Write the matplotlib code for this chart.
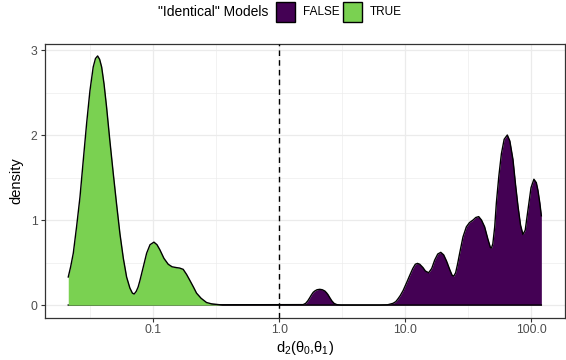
import numpy as np
import matplotlib
matplotlib.use("Agg")
import matplotlib.pyplot as plt
from matplotlib.patches import Rectangle

plt.rcParams['font.family'] = ['Liberation Sans', 'DejaVu Sans']
plt.rcParams['mathtext.fontset'] = 'custom'
plt.rcParams['mathtext.rm'] = 'Liberation Sans'
plt.rcParams['mathtext.it'] = 'Liberation Sans'
plt.rcParams['mathtext.bf'] = 'Liberation Sans:bold'

# density curves; x positions given as log10(x)
true_log10x = [-1.674, -1.655, -1.634, -1.608, -1.581, -1.555, -1.528, -1.502,
               -1.476, -1.458, -1.441, -1.425, -1.409, -1.390, -1.370, -1.345,
               -1.317, -1.290, -1.264, -1.237, -1.211, -1.185, -1.165, -1.151,
               -1.135, -1.120, -1.105, -1.080, -1.052, -1.025, -0.994, -0.970,
               -0.947, -0.915, -0.881, -0.850, -0.814, -0.790, -0.762, -0.735,
               -0.709, -0.680, -0.656, -0.620, -0.577, -0.540, -0.511, -0.450,
               2.080]
true_d = [0.33, 0.45, 0.61, 0.92, 1.27, 1.70, 2.14, 2.52,
          2.80, 2.90, 2.93, 2.89, 2.80, 2.60, 2.33, 1.95,
          1.55, 1.18, 0.84, 0.55, 0.33, 0.20, 0.14, 0.13,
          0.16, 0.21, 0.29, 0.44, 0.61, 0.71, 0.74, 0.71,
          0.65, 0.55, 0.48, 0.45, 0.44, 0.435, 0.42, 0.36,
          0.29, 0.21, 0.14, 0.08, 0.03, 0.015, 0.01, 0.0,
          0.0]

false_log10x = [-1.674, 0.190, 0.210, 0.227, 0.242, 0.256, 0.270, 0.282, 0.300,
                0.322, 0.342, 0.362, 0.375, 0.388, 0.400, 0.417, 0.435, 0.457,
                0.490, 0.798, 0.860, 0.903, 0.925, 0.941, 0.960, 0.983, 1.010,
                1.036, 1.060, 1.080, 1.097, 1.115, 1.141, 1.160, 1.186, 1.210,
                1.234, 1.258, 1.282, 1.305, 1.327, 1.355, 1.372, 1.385, 1.400,
                1.415, 1.432, 1.458, 1.485, 1.510, 1.538, 1.560, 1.583, 1.605,
                1.630, 1.655, 1.675, 1.684, 1.695, 1.710, 1.723, 1.743, 1.763,
                1.785, 1.810, 1.830, 1.855, 1.875, 1.895, 1.915, 1.934, 1.952,
                1.974, 1.998, 2.021, 2.040, 2.053, 2.068, 2.080]
false_d = [0.0, 0.005, 0.02, 0.05, 0.085, 0.12, 0.15, 0.165, 0.18,
           0.185, 0.18, 0.165, 0.145, 0.12, 0.09, 0.05, 0.02, 0.005,
           0.0, 0.0, 0.003, 0.02, 0.04, 0.07, 0.11, 0.17, 0.26,
           0.35, 0.43, 0.48, 0.49, 0.48, 0.44, 0.40, 0.38, 0.43,
           0.53, 0.60, 0.62, 0.59, 0.52, 0.41, 0.35, 0.34, 0.38,
           0.48, 0.61, 0.80, 0.92, 0.97, 1.00, 1.03, 1.04, 1.00,
           0.92, 0.78, 0.68, 0.67, 0.72, 0.92, 1.20, 1.52, 1.78,
           1.95, 2.00, 1.93, 1.71, 1.42, 1.16, 0.94, 0.83, 0.88,
           1.12, 1.38, 1.48, 1.44, 1.35, 1.20, 1.05]

groups = ["FALSE", "TRUE"]
colors = {"FALSE": "#440154", "TRUE": "#7AD151"}
x_breaks = [0.1, 1.0, 10.0, 100.0]
x_labels = ["0.1", "1.0", "10.0", "100.0"]
y_breaks = [0, 1, 2, 3]

true_x = 10 ** np.array(true_log10x)
false_x = 10 ** np.array(false_log10x)

fig = plt.figure(figsize=(5.66, 3.6), dpi=100)
ax = fig.add_axes([44.6 / 566, 1 - 317.5 / 360, (565 - 44.6) / 566, (317.5 - 43.5) / 360])

# FALSE first, then TRUE on top (fill and outline of each group together)
z = 2
for g, xs, ds in [("FALSE", false_x, false_d), ("TRUE", true_x, true_d)]:
    ax.fill_between(xs, 0, ds, color=colors[g], linewidth=0, zorder=z)
    ax.plot(xs, ds, color="black", lw=1.0, zorder=z + 0.1, solid_joinstyle="round")
    z += 0.2

ax.axvline(1.0, color="black", lw=1.0, linestyle=(0, (4, 3)), zorder=4)

ax.set_xscale("log")
lo = min(true_log10x + false_log10x)
hi = max(true_log10x + false_log10x)
pad = 0.05 * (hi - lo)
ax.set_xlim(10 ** (lo - pad), 10 ** (hi + pad))
ymax = max(true_d + false_d)
ax.set_ylim(-0.05 * ymax, 1.05 * ymax)

ax.set_xticks(x_breaks)
ax.set_xticklabels(x_labels)
ax.set_xticks([10 ** -1.5, 10 ** -0.5, 10 ** 0.5, 10 ** 1.5], minor=True)
ax.set_yticks(y_breaks)
ax.set_yticks([0.5, 1.5, 2.5], minor=True)

ax.grid(True, which="major", color="#EBEBEB", lw=0.9, zorder=0)
ax.grid(True, which="minor", color="#EBEBEB", lw=0.45, zorder=0)
ax.set_axisbelow(True)
ax.tick_params(which="major", length=3, width=0.8, color="#333333",
               labelsize=8.8, labelcolor="#4D4D4D", pad=2)
ax.tick_params(which="minor", length=0)
for s in ax.spines.values():
    s.set_color("#333333")
    s.set_linewidth(0.9)

ax.set_xlabel(r"$\mathrm{d_2(\theta_0{,}\theta_1)}$", fontsize=10.5, labelpad=2)
ax.set_ylabel("density", fontsize=10.5, labelpad=5)

# legend drawn by hand, ggplot style: title on the left, keys in a row
fig.text(268 / 566, 1 - 12 / 360, '"Identical" Models', ha="right", va="center", fontsize=10)
key_left = [276, 343]
for g, kx in zip(groups, key_left):
    fig.patches.append(Rectangle((kx / 566, 1 - 21.5 / 360), 19 / 566, 19.5 / 360,
                                 transform=fig.transFigure, facecolor=colors[g],
                                 edgecolor="black", linewidth=1.0))
    fig.text((kx + 27) / 566, 1 - 12 / 360, g, ha="left", va="center", fontsize=8.5)

fig.savefig("out.png", dpi=100)
